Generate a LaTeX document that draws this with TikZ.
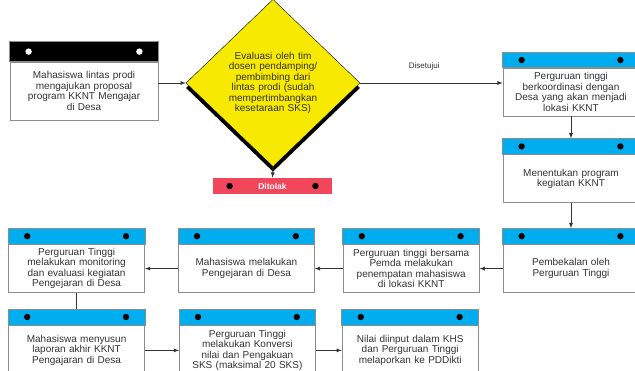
\documentclass[tikz,border=0pt]{standalone}
\usepackage{fontspec}
\setmainfont{Liberation Sans}
\usetikzlibrary{positioning,shapes.geometric,shadows,arrows}
\definecolor{headblue}{HTML}{00AEEF}
\definecolor{rejectred}{HTML}{F2465A}
\definecolor{diayellow}{HTML}{F7EA00}
\definecolor{txtgray}{HTML}{333333}
\definecolor{linegray}{HTML}{8C8C8C}
\def\dx{28pt}
\def\dy{38pt}
\tikzstyle{stepbody}=[draw=linegray,fill=white,rectangle,minimum width=136pt,
  minimum height=48pt,text width=130pt,align=center,inner sep=0pt,text=txtgray,
  font=\fontsize{10}{10.4}\selectfont]
\tikzstyle{decision}=[diamond,draw=black,thin,fill=diayellow,minimum width=174pt,
  minimum height=156pt,inner sep=0pt,text width=106pt,align=center,text=txtgray,
  font=\fontsize{10}{10.4}\selectfont,
  drop shadow={shadow xshift=0pt,shadow yshift=-5pt,fill=black,opacity=1}]
\tikzstyle{reject}=[fill=rejectred,minimum width=119pt,minimum height=16pt,
  inner sep=0pt,text=white,font=\fontsize{8.5}{10}\selectfont\bfseries]
\newcommand{\newStep}[6]{\node[stepbody,#3](#1){#2};
  \draw[draw=linegray,fill=#4] (#1.north west) rectangle ([yshift=#5]#1.north east);
  \coordinate (#1top) at ([yshift=#5]#1.north);
  \fill[#6] ([xshift=19pt,yshift=#5/2]#1.north west) circle (3.2pt);
  \fill[#6] ([xshift=-19pt,yshift=#5/2]#1.north east) circle (3.2pt);}
\newcommand{\newArrow}[3]{\draw[->] (#1) -- node {#3} (#2);}

\begin{document}
\begin{tikzpicture}[x=1pt,y=1pt,
      >=latex,line width=0.8pt,draw=txtgray,auto
      ]
      \useasboundingbox (0,0) rectangle (635,371);
      % top row
      \newStep{b1}{Mahasiswa lintas prodi\\ mengajukan proposal\\ program KKNT Mengajar\\ di Desa}{at={(84,280)},minimum width=148pt,minimum height=58pt,text width=140pt}{black}{20pt}{white}
      \node[decision] (dia) at (273,288) {Evaluasi oleh tim\\ dosen pendamping/\\ pembimbing dari\\ lintas prodi (sudah\\ mempertimbangkan\\ kesetaraan SKS)};
      \node[reject] (no) at (272.5,185) {Ditolak};
      \fill ([xshift=17pt]no.west) circle (3.2pt);
      \fill ([xshift=-17pt]no.east) circle (3.2pt);
      \newStep{b2}{Perguruan tinggi\\ berkoordinasi dengan\\ Desa yang akan menjadi\\ lokasi KKNT}{at={(571,279)}}{headblue}{15pt}{black}
      \newStep{b3}{Menentukan program\\ kegiatan KKNT}{below=\dy of b2}{headblue}{16pt}{black}
      % middle row, right to left
      \newStep{b4}{Pembekalan oleh\\ Perguruan Tinggi}{below=41pt of b3}{headblue}{16pt}{black}
      \newStep{b5}{Perguruan tinggi bersama\\ Pemda melakukan\\ penempatan mahasiswa\\ di lokasi KKNT}{left=23pt of b4}{headblue}{16pt}{black}
      \newStep{b6}{Mahasiswa melakukan\\ Pengejaran di Desa}{left=\dx of b5}{headblue}{16pt}{black}
      \newStep{b7}{Perguruan Tinggi\\ melakukan monitoring\\ dan evaluasi kegiatan\\ Pengejaran di Desa}{left=33pt of b6}{headblue}{16pt}{black}
      % bottom row
      \newStep{b8}{Mahasiswa menyusun\\ laporan akhir KKNT\\ Pengajaran di Desa}{below=32pt of b7,minimum height=50pt}{headblue}{16pt}{black}
      \newStep{b9}{Perguruan Tinggi\\ melakukan Konversi\\ nilai dan Pengakuan\\ SKS (maksimal 20 SKS)}{right=34pt of b8,minimum height=50pt}{headblue}{16pt}{black}
      \newStep{b10}{Nilai diinput dalam KHS\\ dan Perguruan Tinggi\\ melaporkan ke PDDikti}{right=26pt of b9,minimum height=50pt}{headblue}{16pt}{black}
      % connectors
      \draw[->] (b1.east |- dia.west) -- (dia.west);
      \draw[->] (dia.east) -- node[pos=0.45,above=9pt,font=\fontsize{8}{9}\selectfont,text=txtgray]{Disetujui} (b2.west |- dia.east);
      \newArrow{dia.south}{no.north}{}
      \newArrow{b2}{b3top}{}
      \newArrow{b3}{b4top}{}
      \newArrow{b4}{b5}{}
      \newArrow{b5}{b6}{}
      \newArrow{b6}{b7}{}
      \draw (b7) -- (b8top);
      \newArrow{b8}{b9}{}
      \newArrow{b9}{b10}{}
    \end{tikzpicture}
\end{document}
